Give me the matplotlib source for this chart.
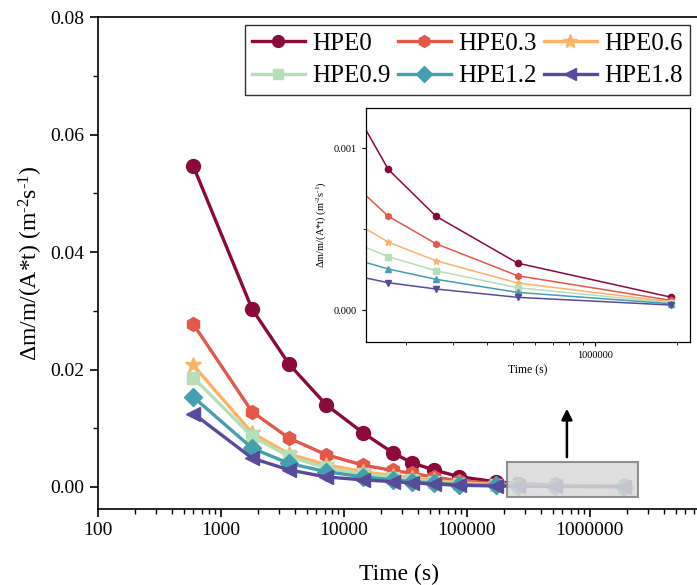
import matplotlib
matplotlib.use("Agg")
import matplotlib.pyplot as plt
from matplotlib.ticker import FixedLocator, NullFormatter, LogLocator, FormatStrFormatter
from matplotlib.patches import Rectangle

plt.rcParams['font.family'] = ['Liberation Serif', 'DejaVu Serif']
plt.rcParams['mathtext.fontset'] = 'custom'
plt.rcParams['mathtext.rm'] = 'Liberation Serif'
plt.rcParams['mathtext.it'] = 'Liberation Serif:italic'
plt.rcParams['mathtext.bf'] = 'Liberation Serif:bold'

# ---- data ----
times = [600, 1800, 3600, 7200, 14400, 25200, 36000, 54000, 86400, 172800, 259200, 518400, 1900800]
labels = ['HPE0', 'HPE0.3', 'HPE0.6', 'HPE0.9', 'HPE1.2', 'HPE1.8']
hpe0 = [0.0546, 0.0303, 0.0209, 0.0140, 0.0092, 0.0058, 0.0041, 0.0029, 0.00176, 0.00087, 0.00058, 0.00029, 0.00008]
hpe03 = [0.0277, 0.0128, 0.0083, 0.0055, 0.0037, 0.0028, 0.0023, 0.0017, 0.00105, 0.00058, 0.00041, 0.000212, 0.00006]
hpe06 = [0.0207, 0.0092, 0.0056, 0.0038, 0.0026, 0.0019, 0.0015, 0.0011, 0.00072, 0.00042, 0.000305, 0.000167, 0.000051]
hpe09 = [0.0186, 0.0086, 0.0052, 0.0032, 0.0022, 0.0016, 0.0012, 0.00085, 0.00054, 0.00033, 0.000243, 0.000138, 0.000045]
hpe12 = [0.0153, 0.0066, 0.0040, 0.0026, 0.0017, 0.0012, 0.0009, 0.00065, 0.0004, 0.000254, 0.00019, 0.000109, 0.000039]
hpe18 = [0.0125, 0.0049, 0.0029, 0.0017, 0.0012, 0.0009, 0.0007, 0.0005, 0.000275, 0.000169, 0.00013, 0.0000785, 0.000031]
series = [hpe0, hpe03, hpe06, hpe09, hpe12, hpe18]

colors = ['#8B0A3C', '#E4574B', '#FDB366', '#B5DFB7', '#449FB0', '#584B9B']
markers_main = ['o', 'h', '*', 's', 'D', '<']
markers_inset = ['o', 'h', '*', 's', '^', 'v']
msizes_main = [10, 10, 12, 9, 9, 10]

ylabel_txt = r'Δm/m/(A*t) (m$^{\text{-2}}$s$^{\text{-1}}$)'

fig = plt.figure(figsize=(6.97, 5.85), dpi=100)
W, H = 697, 585
def fr(x0, y0, x1, y1):
    return [x0 / W, 1 - y1 / H, (x1 - x0) / W, (y1 - y0) / H]

ax = fig.add_axes(fr(97.7, 17.3, 700, 509))
handles = []
for s, c, m, ms, lab in zip(series, colors, markers_main, msizes_main, labels):
    h, = ax.plot(times, s, color=c, marker=m, ms=ms, lw=2.4, label=lab)
    handles.append(h)

ax.set_xscale('log')
ax.set_xlim(100, 10 ** 6.897)
ax.set_ylim(-0.00376, 0.08)
ax.xaxis.set_major_locator(FixedLocator([100, 1000, 10000, 100000, 1000000]))
ax.set_xticklabels(['100', '1000', '10000', '100000', '1000000'])
ax.xaxis.set_minor_locator(LogLocator(base=10, subs=range(2, 10)))
ax.xaxis.set_minor_formatter(NullFormatter())
ax.yaxis.set_major_locator(FixedLocator([0, 0.02, 0.04, 0.06, 0.08]))
ax.yaxis.set_major_formatter(FormatStrFormatter('%.2f'))
ax.yaxis.set_minor_locator(FixedLocator([0.01, 0.03, 0.05, 0.07]))
ax.tick_params(which='major', direction='out', length=6, width=1.2, labelsize=14)
ax.tick_params(which='minor', direction='out', length=3.5, width=1.0)
ax.spines['right'].set_visible(False)
for sp in ['left', 'bottom', 'top']:
    ax.spines[sp].set_linewidth(1.2)
ax.set_xlabel('Time (s)', fontsize=17, labelpad=18)
ax.set_ylabel(ylabel_txt, fontsize=17, labelpad=4)

# grey zoom box
rect = Rectangle((2.14e5, -0.00166), 2.48e6 - 2.14e5, 0.00427 + 0.00166,
                 facecolor='#D9D9D9', edgecolor='#7F7F7F', lw=1.5, alpha=0.85, zorder=5)
ax.add_patch(rect)
ax.annotate('', xy=(6.53e5, 0.0138), xytext=(6.53e5, 0.0046),
            arrowprops=dict(arrowstyle='-|>', color='black', lw=1.8, mutation_scale=16))

# legend in row-major order (3 columns)
order = [0, 3, 1, 4, 2, 5]
leg = ax.legend([handles[i] for i in order], [labels[i] for i in order],
                ncol=3, loc='upper right', bbox_to_anchor=(690 / W, 1 - 25 / H),
                bbox_transform=fig.transFigure, borderaxespad=0, fontsize=18, frameon=True,
                fancybox=False, edgecolor='black', handlelength=2.1, columnspacing=0.3,
                handletextpad=0.3, labelspacing=0.4, borderpad=0.3, markerscale=0.85)
leg.get_frame().set_linewidth(1.0)

# inset
axi = fig.add_axes(fr(366, 108, 690, 341.7))
for s, c, m in zip(series, colors, markers_inset):
    axi.plot(times, s, color=c, marker=m, ms=4.5, lw=1.1)
axi.set_xscale('log')
axi.set_xlim(1.43e5, 2.24e6)
axi.set_ylim(-0.000196, 0.00125)
axi.xaxis.set_major_locator(FixedLocator([1000000]))
axi.set_xticklabels(['1000000'])
axi.xaxis.set_minor_locator(LogLocator(base=10, subs=range(2, 10)))
axi.xaxis.set_minor_formatter(NullFormatter())
axi.yaxis.set_major_locator(FixedLocator([0, 0.001]))
axi.yaxis.set_major_formatter(FormatStrFormatter('%.3f'))
axi.yaxis.set_minor_locator(FixedLocator([0.0005]))
axi.tick_params(which='major', direction='out', length=3, width=0.8, labelsize=7.5)
axi.tick_params(which='minor', direction='out', length=2, width=0.6)
for sp in axi.spines.values():
    sp.set_linewidth(0.9)
axi.set_xlabel('Time (s)', fontsize=8.5, labelpad=3)
axi.set_ylabel(ylabel_txt, fontsize=7.5, labelpad=4)

fig.savefig('out.png', dpi=100)
